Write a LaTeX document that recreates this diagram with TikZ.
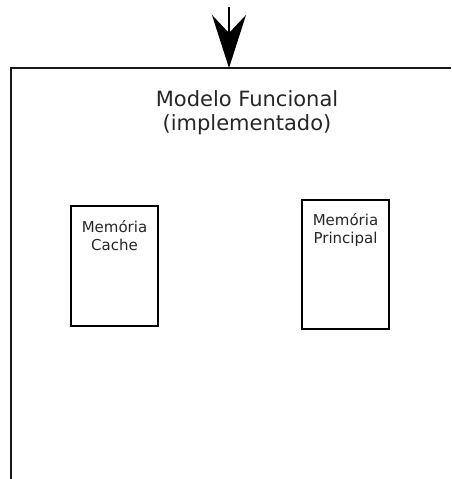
\documentclass[tikz,border=0pt]{standalone}
\usepackage{fontspec}
\setmainfont{DejaVu Sans}
\usetikzlibrary{arrows.meta}
\begin{document}
\begin{tikzpicture}[x=1pt,y=-1pt,
  frame/.style={line width=2.2pt,draw=black!90},
  membox/.style={draw=black,line width=2.2pt,minimum width=87pt,inner sep=0pt},
  memtext/.style={anchor=north,align=center,inner sep=0pt,text=black!85,
    font=\fontsize{15}{18}\selectfont},
  titletext/.style={anchor=north,align=center,inner sep=0pt,text=black!85,
    font=\fontsize{21}{24}\selectfont},
  flow/.style={line width=2.2pt,-{Stealth[length=53pt,width=34pt,inset=18pt]}}]
\useasboundingbox (0,0) rectangle (451,479);

% open outer frame of the functional model
\draw[frame] (11,479) -- (11,68) -- (451,68);
\coordinate (entry) at (229,68);
\coordinate (source) at (229,7);
\draw[flow] (source) -- (entry);

\node[titletext] (title) at (247,90) {Modelo Funcional\\(implementado)};

% memory blocks
\node[membox,minimum height=120pt] (cache) at (114.5,266) {};
\node[memtext] (cachelbl) at ([yshift=-15pt]cache.north) {Memória\\Cache};

\node[membox,minimum height=129pt] (main) at (345.5,264.5) {};
\node[memtext] (mainlbl) at ([yshift=-14pt]main.north) {Memória\\Principal};
\end{tikzpicture}
\end{document}
